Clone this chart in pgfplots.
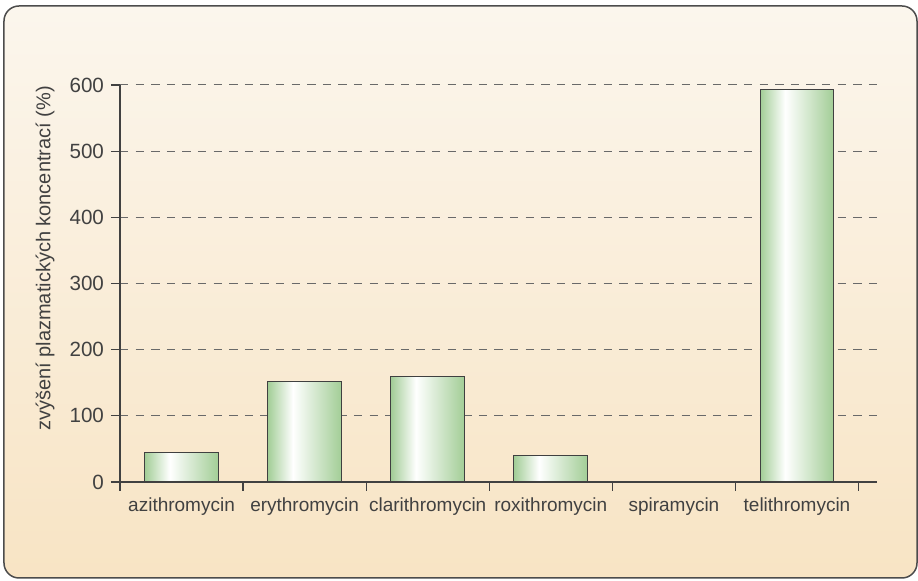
\documentclass[border=0pt]{standalone}
\usepackage{fontspec}
\setmainfont{Liberation Sans}
\usepackage{pgfplots}
\pgfplotsset{compat=1.18}
\definecolor{txt}{RGB}{65,65,65}
\definecolor{barg}{RGB}{162,205,150}
\definecolor{bgtop}{RGB}{251,246,237}
\definecolor{bgbot}{RGB}{248,228,196}
\definecolor{gridc}{RGB}{105,105,105}
% white highlight sits left of the bar centre
\pgfdeclarehorizontalshading{barshade}{100bp}{color(0bp)=(barg); color(25bp)=(barg); color(42bp)=(white); color(75bp)=(barg); color(100bp)=(barg)}
\pgfplotsset{gbar/.style={ybar, draw=black!75, line width=0.5pt, shading=barshade}}

\begin{document}
\begin{tikzpicture}
\path (-60pt,-49.5pt) rectangle (399pt,241pt);
\draw[draw=black!70, line width=0.75pt, rounded corners=7.5pt,
      top color=bgtop, bottom color=bgbot] (-58pt,-48pt) rectangle (398.5pt,238pt);
\begin{axis}[
  at={(0pt,0pt)}, anchor=south west,
  scale only axis, width=378.5pt, height=198.5pt,
  xmin=-0.5, xmax=5.65, ymin=0, ymax=600,
  axis lines*=left,
  axis line style={txt, line width=0.8pt},
  tick align=outside,
  tick style={txt, line width=0.6pt},
  major tick length=4.5pt,
  xtick={-0.5,0.5,1.5,2.5,3.5,4.5,5.5}, xticklabels={},
  extra x ticks={0,1,2,3,4,5},
  extra x tick labels={azithromycin,erythromycin,clarithromycin,roxithromycin,spiramycin,telithromycin},
  extra x tick style={major tick style={draw=none}},
  ytick={0,100,...,600},
  ymajorgrids,
  grid style={gridc, dash pattern=on 4.2pt off 3.6pt, line width=0.5pt},
  xticklabel style={font=\fontsize{9.5}{11}\selectfont, text=txt},
  yticklabel style={font=\fontsize{10.3}{12}\selectfont, text=txt},
  /pgf/number format/assume math mode=true,
  ylabel={zvýšení plazmatických koncentrací (\%)},
  ylabel style={at={(axis description cs:-0.099,0.563)}, anchor=center,
                font=\fontsize{10}{12}\selectfont, text=txt},
  bar width=0.6,
]
% one plot per bar so that each bar gets its own shading; spiramycin = 0
\addplot[gbar] coordinates {(0,44)};
\addplot[gbar] coordinates {(1,152)};
\addplot[gbar] coordinates {(2,160)};
\addplot[gbar] coordinates {(3,40)};
\addplot[gbar] coordinates {(5,593)};
\end{axis}
\end{tikzpicture}
\end{document}
